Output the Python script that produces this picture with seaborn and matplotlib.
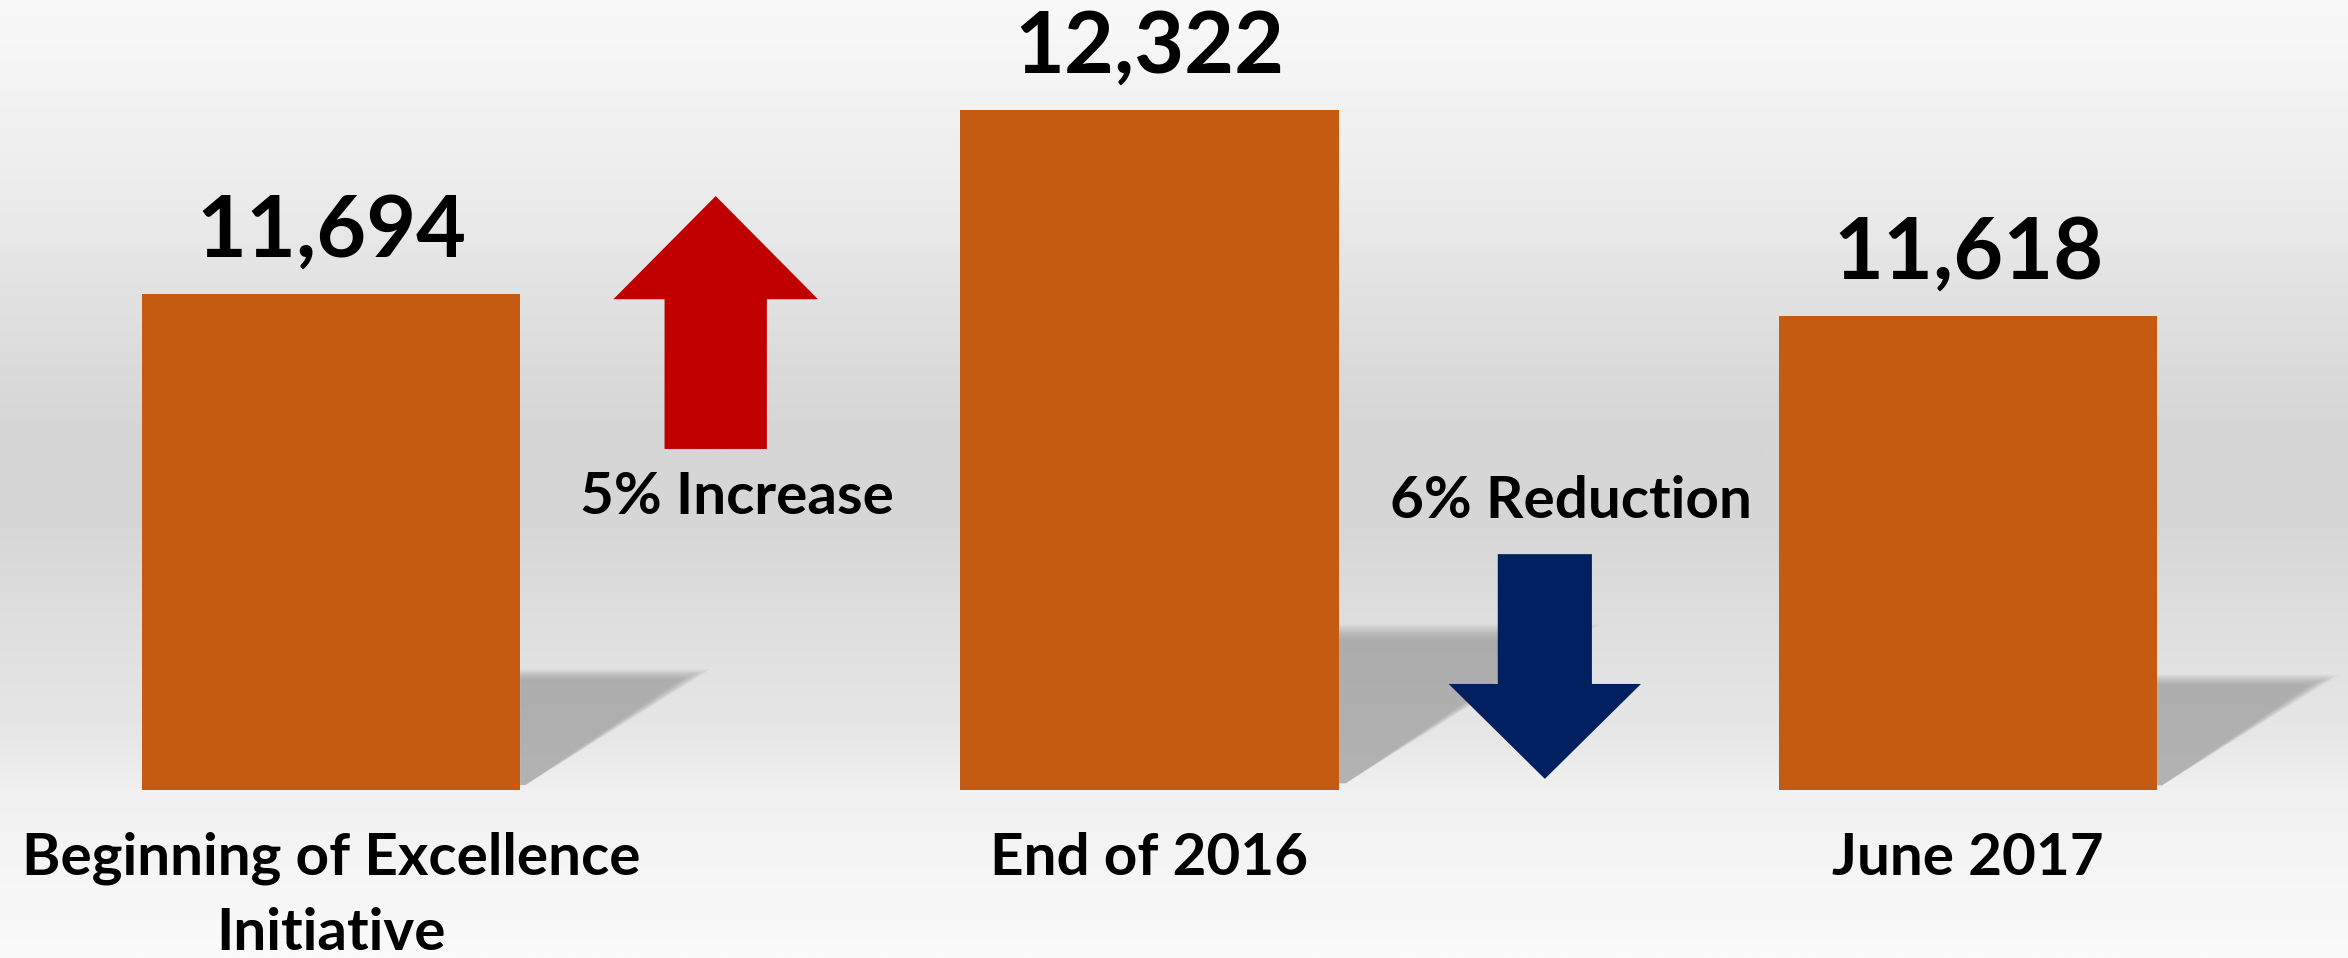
import numpy as np
import pandas as pd
import matplotlib
matplotlib.use("Agg")
import matplotlib.pyplot as plt
from matplotlib.patches import FancyArrow, Polygon
import seaborn as sns

# ---- data ----
categories = ["Beginning of Excellence\nInitiative", "End of 2016", "June 2017"]
values = [11694, 12322, 11618]
value_labels = ["11,694", "12,322", "11,618"]

BAR_COLOR = "#c55a11"
UP_COLOR = "#c00000"
DOWN_COLOR = "#002060"
FONT = ["Lato", "DejaVu Sans"]

sns.set_theme(style="white")
plt.rcParams["font.family"] = FONT
plt.rcParams["font.weight"] = "bold"

W, H, DPI = 2348, 958, 100
fig = plt.figure(figsize=(W / DPI, H / DPI), dpi=DPI)

# ---- background gradient ----
bg = fig.add_axes([0, 0, 1, 1], zorder=-10)
ys = np.linspace(0, 1, 400)
stops_y = [0.0, 0.19, 0.38, 0.45, 0.54, 0.64, 0.77, 0.83, 1.0]
stops_v = [249, 237, 219, 214, 214, 222, 231, 241, 250]
grad = np.interp(ys, stops_y, stops_v) / 255.0
img = np.repeat(grad[:, None], 2, axis=1)
bg.imshow(np.dstack([img, img, img]), aspect="auto", extent=[0, 1, 1, 0])
bg.set_axis_off()

# ---- main axes ----
ax_bottom = 168 / H
ax = fig.add_axes([0, ax_bottom, 1, 1 - ax_bottom])
ax.patch.set_alpha(0)

df = pd.DataFrame({"cat": categories, "val": values})
sns.barplot(data=df, x="cat", y="val", color=BAR_COLOR, saturation=1,
            width=0.462, ax=ax, zorder=3, linewidth=0, edgecolor="none")

cat_px = 818.5
ax.set_xlim(-331 / cat_px, (W - 331) / cat_px)
ymin = 10000
px_per_unit = 0.293
ax.set_ylim(ymin, ymin + 790 / px_per_unit)

# ---- soft shadows ----
for bar in ax.patches[:3]:
    xr = bar.get_x() + bar.get_width()
    h = bar.get_height() - ymin
    h_px = h * px_per_unit
    sh = 0.232 * h
    sw = 0.35 * h_px / cat_px
    n = 18
    for k in range(n):
        grow = 0.10 - k * 0.011
        verts = [(xr, ymin + 0.01 * h),
                 (xr, ymin + sh * (1 + grow * 0.5)),
                 (xr + sw * (1 + grow), ymin + sh * (1 + grow * 0.5)),
                 (xr + 0.03 * sw, ymin + 0.01 * h)]
        ax.add_patch(Polygon(verts, closed=True, facecolor="#8c8c8c",
                             edgecolor="none", alpha=0.045, zorder=1))

# ---- change arrows ----
up = FancyArrow(0.47, 11164, 0, 12027 - 11164, width=0.125, head_width=0.25,
                head_length=352, length_includes_head=True,
                facecolor=UP_COLOR, edgecolor="none", zorder=4)
down = FancyArrow(1.483, 10805, 0, 10038 - 10805, width=0.115, head_width=0.235,
                  head_length=324, length_includes_head=True,
                  facecolor=DOWN_COLOR, edgecolor="none", zorder=4)
ax.add_patch(up)
ax.add_patch(down)

inc = round((values[1] / values[0] - 1) * 100)
dec = round((1 - values[2] / values[1]) * 100)
ax.text(0.496, 11000, f"{inc}% Increase", ha="center", va="center",
        fontsize=42, fontweight="bold", color="black", zorder=5)
ax.text(1.515, 10983, f"{dec}% Reduction", ha="center", va="center",
        fontsize=42, fontweight="bold", color="black", zorder=5)

# ---- value labels ----
for bar, lab in zip(ax.patches[:3], value_labels):
    ax.annotate(lab, (bar.get_x() + bar.get_width() / 2, bar.get_height()),
                xytext=(0, 27), textcoords="offset points",
                ha="center", va="baseline", fontsize=62, fontweight="bold",
                color="black", zorder=5, annotation_clip=False)

# ---- axes styling ----
ax.set_xlabel("")
ax.set_ylabel("")
ax.set_yticks([])
ax.tick_params(axis="x", length=0, pad=30)
for t in ax.get_xticklabels():
    t.set_fontsize(42)
    t.set_fontweight("bold")
    t.set_color("black")
    t.set_linespacing(1.5)
for s in ax.spines.values():
    s.set_visible(False)

fig.savefig("out.png", dpi=DPI)
